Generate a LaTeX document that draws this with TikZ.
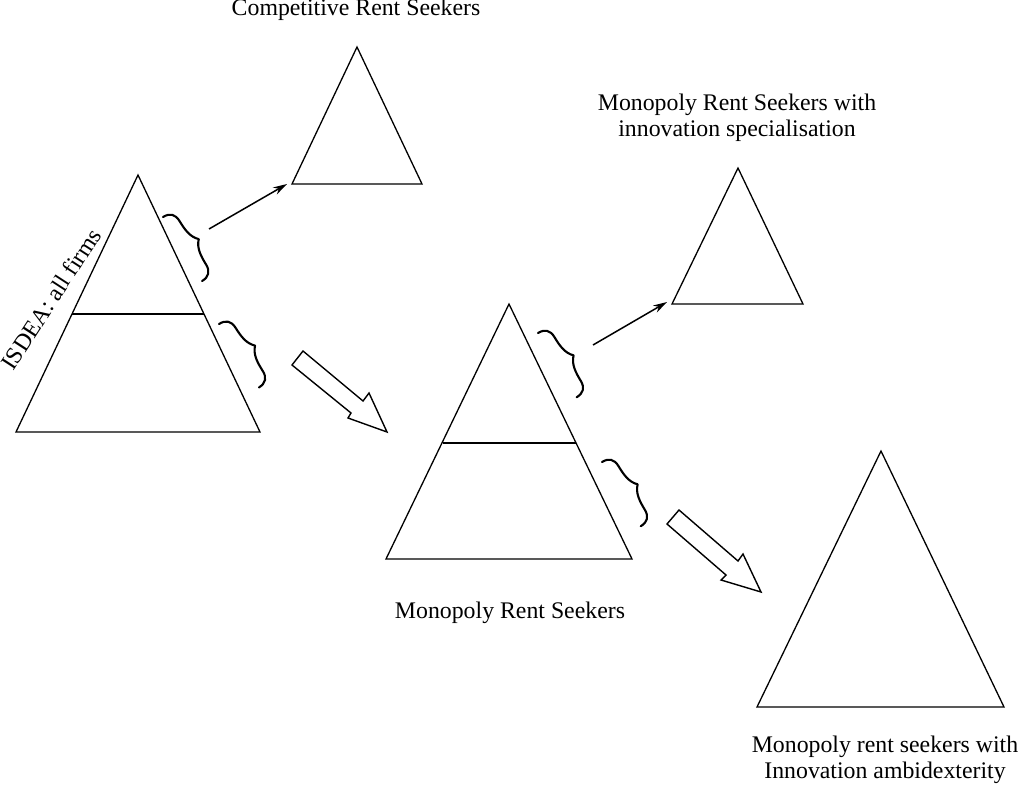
\documentclass[tikz,border=0pt]{standalone}
\usepackage{fontspec}
\setmainfont{Liberation Serif}
\usetikzlibrary{arrows.meta}
\begin{document}
\begin{tikzpicture}[x=1pt,y=-1pt,
  tri/.style={line width=1.3pt, line join=miter},
  divider/.style={line width=1.9pt},
  bracepen/.style={line width=2.1pt, line cap=round, line join=round},
  curly/.pic={
    \draw[bracepen, x=1pt, y=1pt]
      (0,0) .. controls (0,8) and (4,12) .. (12,12)
      .. controls (22,12) and (31,12.5) .. (37.5,19)
      .. controls (44,12.5) and (53,12) .. (63,12)
      .. controls (71,12) and (75,8) .. (75,0);
  },
  thinarrow/.style={line width=1.5pt, -{Stealth[length=14pt,width=8pt]}},
  blockarrow/.style={line width=1.4pt, line join=miter, fill=white},
  lbl/.style={font=\fontsize{23.8}{26}\selectfont, align=center, inner sep=0pt}
]
\path[use as bounding box] (0,0) rectangle (1018,789);

% triangle vertices
\coordinate (t1a) at (138,175); \coordinate (t1l) at (16,432);  \coordinate (t1r) at (260,432);
\coordinate (t2a) at (357,47);  \coordinate (t2l) at (292,184); \coordinate (t2r) at (422,184);
\coordinate (t3a) at (509,304); \coordinate (t3l) at (386,559); \coordinate (t3r) at (632,559);
\coordinate (t4a) at (738,168); \coordinate (t4l) at (672,304); \coordinate (t4r) at (803,304);
\coordinate (t5a) at (881,451); \coordinate (t5l) at (757,707); \coordinate (t5r) at (1004,707);

\draw[tri] (t1a) -- (t1l) -- (t1r) -- cycle;
\draw[tri] (t2a) -- (t2l) -- (t2r) -- cycle;
\draw[tri] (t3a) -- (t3l) -- (t3r) -- cycle;
\draw[tri] (t4a) -- (t4l) -- (t4r) -- cycle;
\draw[tri] (t5a) -- (t5l) -- (t5r) -- cycle;

% dividers
\coordinate (d1l) at (72,314);  \coordinate (d1r) at (204,314);
\coordinate (d3l) at (443,443); \coordinate (d3r) at (576,443);
\draw[divider] (d1l) -- (d1r);
\draw[divider] (d3l) -- (d3r);

% braces
\coordinate (b1s) at (163,217);
\coordinate (b2s) at (219,324);
\coordinate (b3s) at (538,333);
\coordinate (b4s) at (602,462);
\pic[rotate=-58.6] at (b1s) {curly};
\pic[rotate=-57.8] at (b2s) {curly};
\pic[rotate=-59.0] at (b3s) {curly};
\pic[rotate=-58.9] at (b4s) {curly};

% thin arrows
\coordinate (a1s) at (209,229); \coordinate (a1e) at (287,184);
\coordinate (a2s) at (593,345); \coordinate (a2e) at (667,302);
\draw[thinarrow] (a1s) -- (a1e);
\draw[thinarrow] (a2s) -- (a2e);

% block arrows
\draw[blockarrow] (303,351) -- (363,401) -- (369,393) -- (387,432) -- (348,418) -- (351,413) -- (292,365) -- cycle;
\draw[blockarrow] (679,510) -- (738,561) -- (743,554) -- (761,592) -- (721,580) -- (726,575) -- (667,524) -- cycle;

% labels
\node[lbl, anchor=base] (lcomp) at (356,15.5) {Competitive Rent Seekers};
\node[lbl, anchor=base] (lspec) at (737,137) {Monopoly Rent Seekers with\\innovation specialisation};
\node[lbl, anchor=base] (lmono) at (510,618) {Monopoly Rent Seekers};
\node[lbl, anchor=base] (lambi) at (885,778) {Monopoly rent seekers with\\Innovation ambidexterity};
\node[lbl, rotate=57] (lisdea) at (51,299) {ISDEA: all firms};
\end{tikzpicture}
\end{document}
